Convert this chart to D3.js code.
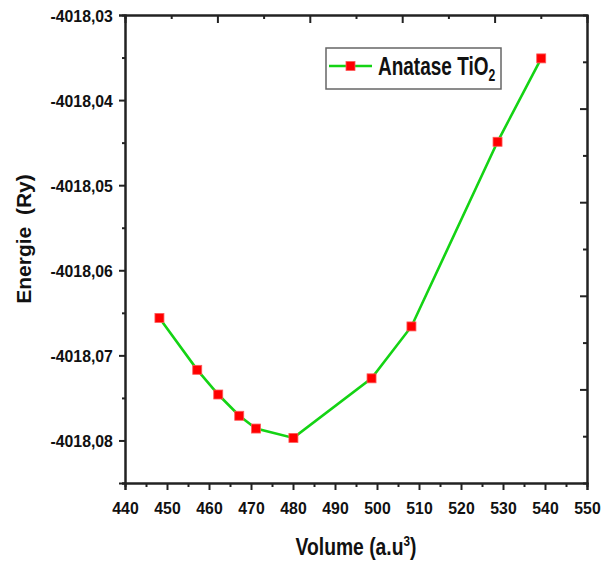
<!DOCTYPE html>
<html>
<head>
<meta charset="utf-8">
<script src="https://cdn.jsdelivr.net/npm/d3@7"></script>
<style>
  body { margin: 0; background: #fff; }
  svg { display: block; }
  text { font-family: "Liberation Sans", Arial, sans-serif; font-weight: bold; fill: #111; }
</style>
</head>
<body>
<svg id="chart" width="604" height="563"></svg>
<script>
// ---- data ----
const volume = [448.2, 457.2, 462.2, 467.2, 471.2, 480.1, 498.7, 508.2, 528.7, 539.1];
const energy = [-4018.0656, -4018.0717, -4018.0746, -4018.0771, -4018.0786, -4018.0797, -4018.0727, -4018.0666, -4018.0449, -4018.0351];
const xTicks = [440, 450, 460, 470, 480, 490, 500, 510, 520, 530, 540, 550];
const yTicks = [-4018.03, -4018.04, -4018.05, -4018.06, -4018.07, -4018.08];
const seriesName = "Anatase TiO";
const seriesSub = "2";
const xTitle = "Volume (a.u";
const xTitleSup = "3";
const yTitle = "Energie  (Ry)";

// ---- layout ----
const L = 125, R = 587, T = 15, B = 483;
const svg = d3.select("#chart");

const x = d3.scaleLinear().domain([440, 550]).range([L, R]);
const y = d3.scaleLinear().domain([-4018.085, -4018.03]).range([B, T]);

const axisColor = "#222";
const fmt = v => v.toFixed(2).replace(".", ",");

function styleAxis(g) {
  g.attr("font-family", null).attr("font-size", null);
  g.select(".domain").attr("stroke", axisColor).attr("stroke-width", 2);
  g.selectAll(".tick line").attr("stroke", axisColor).attr("stroke-width", 2);
}

// minor tick values
const xMinor = xTicks.slice(0, -1).map(v => v + 5);
const yMinor = yTicks.map(v => v - 0.005);

// bottom axis
svg.append("g").attr("transform", `translate(0,${B})`)
  .call(d3.axisBottom(x).tickValues(xMinor).tickSize(4).tickFormat(""))
  .call(styleAxis);
const gx = svg.append("g").attr("transform", `translate(0,${B})`)
  .call(d3.axisBottom(x).tickValues(xTicks).tickSize(7).tickFormat(d3.format("d")))
  .call(styleAxis);
gx.selectAll(".tick text")
  .attr("y", 31).attr("dy", 0).attr("fill", "#111")
  .style("font-size", "17px").attr("transform", "scale(0.93,1)");

// left axis
svg.append("g").attr("transform", `translate(${L},0)`)
  .call(d3.axisLeft(y).tickValues(yMinor).tickSize(3).tickFormat(""))
  .call(styleAxis);
const gy = svg.append("g").attr("transform", `translate(${L},0)`)
  .call(d3.axisLeft(y).tickValues(yTicks).tickSize(6).tickFormat(fmt))
  .call(styleAxis);
gy.selectAll(".tick text")
  .attr("x", -13).attr("dy", "0.36em").attr("fill", "#111")
  .style("font-size", "17px").attr("transform", "scale(0.93,1)");

// top and right mirror axes (10 equal divisions, inward ticks)
const divs = d3.range(0, 11);
const xt = d3.scaleLinear().domain([0, 10]).range([L, R]);
const yr = d3.scaleLinear().domain([0, 10]).range([T, B]);
svg.append("g").attr("transform", `translate(0,${T})`)
  .call(d3.axisTop(xt).tickValues(divs.filter(d => d % 2 === 1)).tickSize(-4).tickFormat(""))
  .call(styleAxis);
svg.append("g").attr("transform", `translate(0,${T})`)
  .call(d3.axisTop(xt).tickValues(divs.filter(d => d % 2 === 0)).tickSize(-8).tickSizeOuter(0).tickFormat(""))
  .call(styleAxis);
svg.append("g").attr("transform", `translate(${R},0)`)
  .call(d3.axisRight(yr).tickValues(divs.filter(d => d % 2 === 1)).tickSize(-4).tickFormat(""))
  .call(styleAxis);
svg.append("g").attr("transform", `translate(${R},0)`)
  .call(d3.axisRight(yr).tickValues(divs.filter(d => d % 2 === 0 && d > 0 && d < 10)).tickSize(-7).tickSizeOuter(0).tickFormat(""))
  .call(styleAxis);

// line + markers
const pts = volume.map((v, i) => ({ v, e: energy[i] }));
const lineGreen = "#14d314";
svg.append("path")
  .datum(pts)
  .attr("fill", "none")
  .attr("stroke", lineGreen)
  .attr("stroke-width", 2.6)
  .attr("d", d3.line().x(d => x(d.v)).y(d => y(d.e)));

const ms = 9;
svg.selectAll("rect.pt").data(pts).enter().append("rect")
  .attr("class", "pt")
  .attr("x", d => x(d.v) - ms / 2)
  .attr("y", d => y(d.e) - ms / 2)
  .attr("width", ms).attr("height", ms)
  .attr("fill", "#ff0000")
  .attr("stroke", "#ff5a5a").attr("stroke-width", 0.8);

// legend
const lg = svg.append("g");
lg.append("rect").attr("x", 326).attr("y", 48).attr("width", 175).attr("height", 41)
  .attr("fill", "#fff").attr("stroke", "#666").attr("stroke-width", 1.5);
lg.append("line").attr("x1", 329).attr("x2", 372).attr("y1", 66).attr("y2", 66)
  .attr("stroke", lineGreen).attr("stroke-width", 2.6);
lg.append("rect").attr("x", 350.5 - ms / 2).attr("y", 66 - ms / 2).attr("width", ms).attr("height", ms)
  .attr("fill", "#ff0000").attr("stroke", "#ff5a5a").attr("stroke-width", 0.8);
const lt = lg.append("text").attr("transform", "translate(378,75) scale(0.76,1)")
  .attr("font-size", 25);
lt.append("tspan").text(seriesName);
lt.append("tspan").attr("font-size", 16).attr("dy", 6).text(seriesSub);

// axis titles
const xt1 = svg.append("text").attr("transform", `translate(${(L + R) / 2},555) scale(0.84,1)`)
  .attr("text-anchor", "middle").attr("font-size", 23);
xt1.append("tspan").text(xTitle);
xt1.append("tspan").attr("font-size", 14).attr("dy", -9).text(xTitleSup);
xt1.append("tspan").attr("dy", 9).text(")");

svg.append("text").attr("transform", "translate(31,239) rotate(-90)")
  .attr("text-anchor", "middle").attr("font-size", 21)
  .attr("xml:space", "preserve").style("white-space", "pre")
  .text(yTitle);
</script>
</body>
</html>
